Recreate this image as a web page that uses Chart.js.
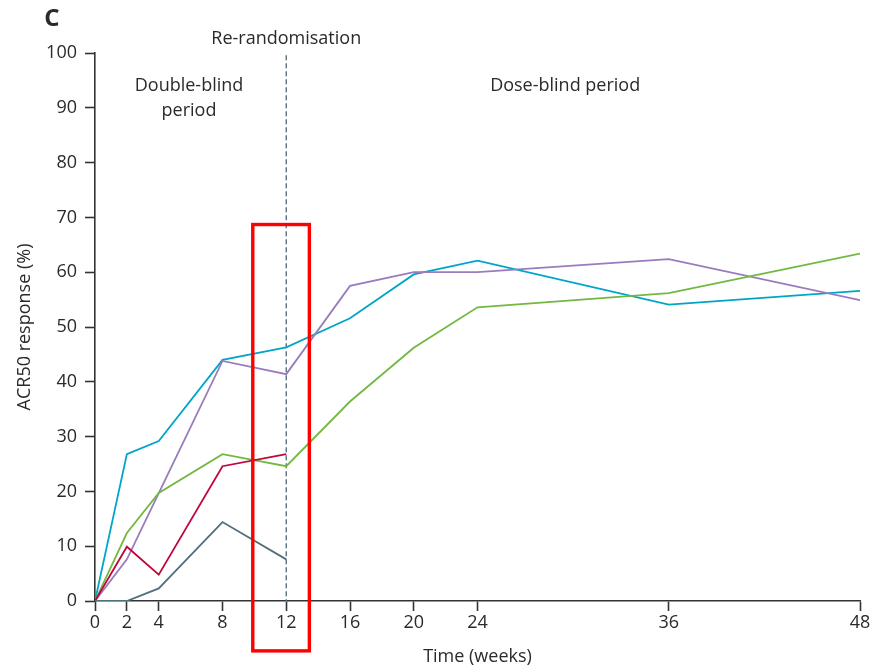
<!DOCTYPE html>
<html>
<head>
<meta charset="utf-8">
<script src="https://cdn.jsdelivr.net/npm/chart.js@4/dist/chart.umd.min.js"></script>
<style>
  html, body { margin: 0; padding: 0; background: #fff; }
  #grafico { display: block; }
</style>
</head>
<body>
<canvas id="grafico" width="873" height="670"></canvas>
<script>
// weeks on the x axis
const weeks = [0, 2, 4, 8, 12, 16, 20, 24, 36, 48];
const weeksDB = [0, 2, 4, 8, 12];
const yTicks = [0, 10, 20, 30, 40, 50, 60, 70, 80, 90, 100];

// ACR50 response (%) per group
const blueVals   = [0, 26.8, 29.2, 44.0, 46.3, 51.6, 59.6, 62.1, 54.1, 56.6];
const purpleVals = [0, 7.6, 19.7, 43.8, 41.4, 57.5, 60.0, 60.0, 62.4, 54.9];
const greenVals  = [0, 12.4, 19.7, 26.8, 24.6, 36.4, 46.2, 53.6, 56.2, 63.4];
const redVals    = [0, 9.9, 4.8, 24.6, 26.8];
const slateVals  = [0, 0, 2.3, 14.4, 7.6];

const reRandWeek = 12;
const boxWeeks = [9.9, 13.45];
const boxVals = [68.7, -9.1];

const FONT = '"Open Sans", "Noto Sans", sans-serif';
const AXIS = '#333333';
const TXT = '#2a2a2a';

function pts(xs, ys) {
  return xs.map((x, i) => ({x: x, y: ys[i]}));
}
function serie(xs, ys, color) {
  return {
    data: pts(xs, ys),
    borderColor: color,
    backgroundColor: color,
    borderWidth: 1.8,
    pointRadius: 0,
    tension: 0,
    fill: false
  };
}

// text, dashed re-randomisation line and highlight box
const extras = {
  id: 'extras',
  beforeDatasetsDraw(chart) {
    const {ctx, scales: {x, y}} = chart;
    ctx.save();
    ctx.strokeStyle = '#55707d';
    ctx.lineWidth = 1.4;
    ctx.setLineDash([5, 3]);
    ctx.beginPath();
    ctx.moveTo(x.getPixelForValue(reRandWeek), y.getPixelForValue(99.6));
    ctx.lineTo(x.getPixelForValue(reRandWeek), y.getPixelForValue(0));
    ctx.stroke();
    ctx.restore();
  },
  afterDraw(chart) {
    const {ctx, scales: {x, y}} = chart;
    ctx.save();
    ctx.fillStyle = TXT;
    ctx.textAlign = 'center';
    ctx.textBaseline = 'middle';
    ctx.font = '18px ' + FONT;
    ctx.fillText('Re-randomisation', x.getPixelForValue(reRandWeek), y.getPixelForValue(102.6));
    ctx.fillText('Double-blind', x.getPixelForValue(5.9), y.getPixelForValue(94.0));
    ctx.fillText('period', x.getPixelForValue(5.9), y.getPixelForValue(89.4));
    ctx.fillText('Dose-blind period', x.getPixelForValue(29.5), y.getPixelForValue(94.0));
    ctx.font = 'bold 24px ' + FONT;
    ctx.fillText('C', 52, 19);

    ctx.strokeStyle = '#ff0000';
    ctx.lineWidth = 3.4;
    const l = x.getPixelForValue(boxWeeks[0]), r = x.getPixelForValue(boxWeeks[1]);
    const t = y.getPixelForValue(boxVals[0]), b = y.getPixelForValue(boxVals[1]);
    ctx.strokeRect(l, t, r - l, b - t);
    ctx.restore();
  }
};

const graph = new Chart(document.getElementById('grafico').getContext('2d'), {
  type: 'line',
  data: {
    datasets: [
      serie(weeksDB, slateVals, '#52707b'),
      serie(weeksDB, redVals, '#c0063a'),
      serie(weeks, greenVals, '#72b843'),
      serie(weeks, purpleVals, '#9a7bbd'),
      serie(weeks, blueVals, '#00a5c8')
    ]
  },
  options: {
    responsive: false,
    animation: false,
    devicePixelRatio: 1,
    layout: {padding: {left: 0, right: 13, top: 53, bottom: 0}},
    plugins: {legend: {display: false}, tooltip: {enabled: false}},
    scales: {
      x: {
        type: 'linear',
        min: 0,
        max: 48,
        afterBuildTicks: s => { s.ticks = weeks.map(v => ({value: v})); },
        afterFit: s => { s.height = 69; },
        border: {display: true, color: AXIS, width: 1.6},
        grid: {drawOnChartArea: false, drawTicks: true, tickLength: 10, tickColor: AXIS, tickWidth: 1.6},
        ticks: {color: TXT, font: {family: FONT, size: 18}, padding: 1, maxRotation: 0, autoSkip: false},
        title: {display: true, text: 'Time (weeks)', color: TXT, font: {family: FONT, size: 18}, padding: {top: 0, bottom: 2}}
      },
      y: {
        min: 0,
        max: 100,
        afterBuildTicks: s => { s.ticks = yTicks.map(v => ({value: v})); },
        afterFit: s => { s.width = 95; },
        border: {display: true, color: AXIS, width: 1.6},
        grid: {drawOnChartArea: false, drawTicks: true, tickLength: 10, tickColor: AXIS, tickWidth: 1.6},
        ticks: {color: TXT, font: {family: FONT, size: 18}, padding: 8},
        title: {display: true, text: 'ACR50 response (%)', color: TXT, font: {family: FONT, size: 18}, padding: {top: 14, bottom: 0}}
      }
    }
  },
  plugins: [extras]
});
</script>
</body>
</html>
